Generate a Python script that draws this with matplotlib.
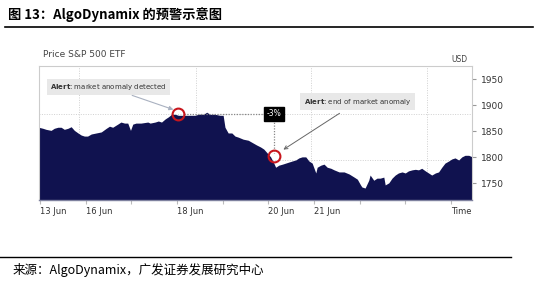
import matplotlib
matplotlib.use("Agg")
import matplotlib.pyplot as plt

# trading-day position (0 = 13 Jun) and price in USD
days = [-0.03, 0.06, 0.13, 0.24, 0.31, 0.39, 0.46, 0.53, 0.61, 0.68, 0.75, 0.83, 0.90, 0.97,
        1.04, 1.12, 1.23, 1.34, 1.45, 1.52, 1.59, 1.70, 1.77, 1.85, 1.92, 1.98, 2.03, 2.10,
        2.21, 2.36, 2.41, 2.52, 2.59, 2.66, 2.74, 2.81, 2.88, 2.96, 3.03, 3.14, 3.21, 3.32,
        3.39, 3.47, 3.58, 3.65, 3.72, 3.83, 3.94, 4.01, 4.05, 4.12, 4.20, 4.27, 4.34, 4.45,
        4.56, 4.64, 4.74, 4.83, 4.90, 4.98, 5.05, 5.12, 5.16, 5.23, 5.31, 5.38, 5.45, 5.52,
        5.60, 5.67, 5.74, 5.82, 5.89, 5.96, 6.04, 6.07, 6.15, 6.22, 6.29, 6.37, 6.44, 6.55,
        6.66, 6.77, 6.88, 6.95, 7.02, 7.05, 7.12, 7.20, 7.23, 7.31, 7.38, 7.45, 7.53, 7.56,
        7.64, 7.71, 7.78, 7.85, 7.93, 8.00, 8.07, 8.15, 8.22, 8.29, 8.36, 8.44, 8.51, 8.58,
        8.66, 8.73, 8.80, 8.87, 8.95, 9.02, 9.09, 9.17, 9.24, 9.31, 9.39, 9.47]
price = [1858, 1856, 1854, 1852, 1856, 1858, 1858, 1854, 1856, 1859, 1852, 1847, 1843, 1841,
         1841, 1845, 1847, 1849, 1856, 1860, 1858, 1864, 1868, 1866, 1866, 1852, 1864, 1866,
         1866, 1868, 1866, 1868, 1870, 1868, 1874, 1878, 1883, 1883, 1881, 1881, 1881, 1881,
         1881, 1883, 1883, 1887, 1883, 1883, 1881, 1881, 1858, 1847, 1847, 1841, 1839, 1835,
         1833, 1829, 1824, 1820, 1816, 1808, 1801, 1789, 1781, 1785, 1787, 1789, 1791, 1793,
         1795, 1799, 1801, 1801, 1793, 1789, 1770, 1781, 1785, 1787, 1781, 1779, 1776, 1772,
         1772, 1768, 1762, 1758, 1747, 1743, 1741, 1756, 1766, 1756, 1760, 1760, 1762, 1747,
         1751, 1760, 1766, 1770, 1772, 1770, 1774, 1776, 1777, 1776, 1779, 1774, 1770, 1766,
         1770, 1772, 1781, 1789, 1793, 1797, 1799, 1795, 1801, 1804, 1804, 1801]

tick_days = [0, 1, 2, 3, 4, 5, 6, 7, 8, 9]
tick_labels = ["13 Jun", "16 Jun", "", "18 Jun", "", "20 Jun", "21 Jun", "", "", "Time"]
y_ticks = [1750, 1800, 1850, 1900, 1950]

alert_start = (3.03, 1883)
alert_end = (5.12, 1803)

navy = "#10124f"
grid_col = "#d0d0d0"

plt.rcParams["font.family"] = ["DejaVu Sans"]
cjk = ["Noto Sans CJK SC", "DejaVu Sans"]

fig = plt.figure(figsize=(5.38, 2.85), dpi=100)
ax = fig.add_axes([0.072, 0.2965, 0.806, 0.4702])

y_bottom = 1717
ax.fill_between(days, price, y_bottom, color=navy, linewidth=0, zorder=2)
ax.set_xlim(-0.03, 9.47)
ax.set_ylim(y_bottom, 1975)

# grid
ax.set_xticks([0.85, 3.42, 5.93, 8.47], minor=True)
ax.set_yticks([1795, 1883], minor=True)
ax.grid(which="minor", color=grid_col, linestyle=(0, (1, 1.5)), linewidth=0.7, zorder=3)
ax.tick_params(which="minor", length=0)

ax.set_xticks(tick_days)
ax.set_xticklabels(tick_labels, fontsize=6, color="#333333", ha="left")
ax.tick_params(axis="x", length=3, color="#bbbbbb", pad=2)

ax.yaxis.tick_right()
ax.set_yticks(y_ticks)
ax.set_yticklabels([str(v) for v in y_ticks], fontsize=6.5, color="#333333")
ax.tick_params(axis="y", length=3, color="#999999", pad=3)

for side in ["top", "left", "right"]:
    ax.spines[side].set_color("#cccccc")
    ax.spines[side].set_linewidth(0.8)
ax.spines["bottom"].set_color("#7f829f")
ax.spines["bottom"].set_linewidth(1.0)

# -3% guide lines
ax.plot([alert_start[0] + 0.13, alert_end[0]], [alert_start[1], alert_start[1]],
        color="#888888", linestyle=(0, (1, 1.2)), linewidth=0.9, zorder=4)
ax.plot([alert_end[0], alert_end[0]], [alert_start[1], alert_end[1] + 6],
        color="#888888", linestyle=(0, (1, 1.2)), linewidth=0.9, zorder=4)
ax.text(alert_end[0], alert_start[1] + 1, "-3%", fontsize=5.5, color="white",
        ha="center", va="center", zorder=6,
        bbox=dict(boxstyle="square,pad=0.35", fc="black", ec="black"))

# alert circles
for pt in [alert_start, alert_end]:
    ax.plot(pt[0], pt[1], marker="o", markersize=8.5, markerfacecolor="none",
            markeredgecolor="#c8161d", markeredgewidth=1.5, zorder=5)

ax.annotate(r"$\bf{Alert}$: market anomaly detected", xy=(2.92, 1892),
            xytext=(1.5, 1935), fontsize=5, color="#333333", ha="center", va="center",
            bbox=dict(boxstyle="square,pad=0.45", fc="#e8e8e8", ec="none"),
            arrowprops=dict(arrowstyle="-|>", color="#a9b1c0", lw=0.8,
                            shrinkA=0, shrinkB=0, mutation_scale=6), zorder=6)
ax.annotate(r"$\bf{Alert}$: end of market anomaly", xy=(5.33, 1815),
            xytext=(6.95, 1907), fontsize=5, color="#333333", ha="center", va="center",
            bbox=dict(boxstyle="square,pad=0.5", fc="#e8e8e8", ec="none"),
            arrowprops=dict(arrowstyle="->", color="#666666", lw=0.7,
                            shrinkA=4, shrinkB=0, mutation_scale=6), zorder=6)

fig.text(43 / 538, 1 - 55 / 285, "Price S&P 500 ETF", fontsize=6.5, color="#444444",
         ha="left", va="center")
fig.text(468 / 538, 1 - 59 / 285, "USD", fontsize=5.5, color="#444444",
         ha="right", va="center")

# title block and source
fig.text(8 / 538, 1 - 15 / 285, "图 13：AlgoDynamix 的预警示意图", fontsize=9.5,
         fontweight="bold", family=cjk, ha="left", va="center")
fig.add_artist(plt.Line2D([5 / 538, 533 / 538], [1 - 27 / 285, 1 - 27 / 285],
                          color="black", linewidth=1.2))
fig.add_artist(plt.Line2D([0, 511 / 538], [1 - 257 / 285, 1 - 257 / 285],
                          color="black", linewidth=1.0))
fig.text(13 / 538, 1 - 270 / 285, "来源：AlgoDynamix，广发证券发展研究中心", fontsize=9,
         family=cjk, ha="left", va="center")

fig.savefig("out.png", dpi=100)
